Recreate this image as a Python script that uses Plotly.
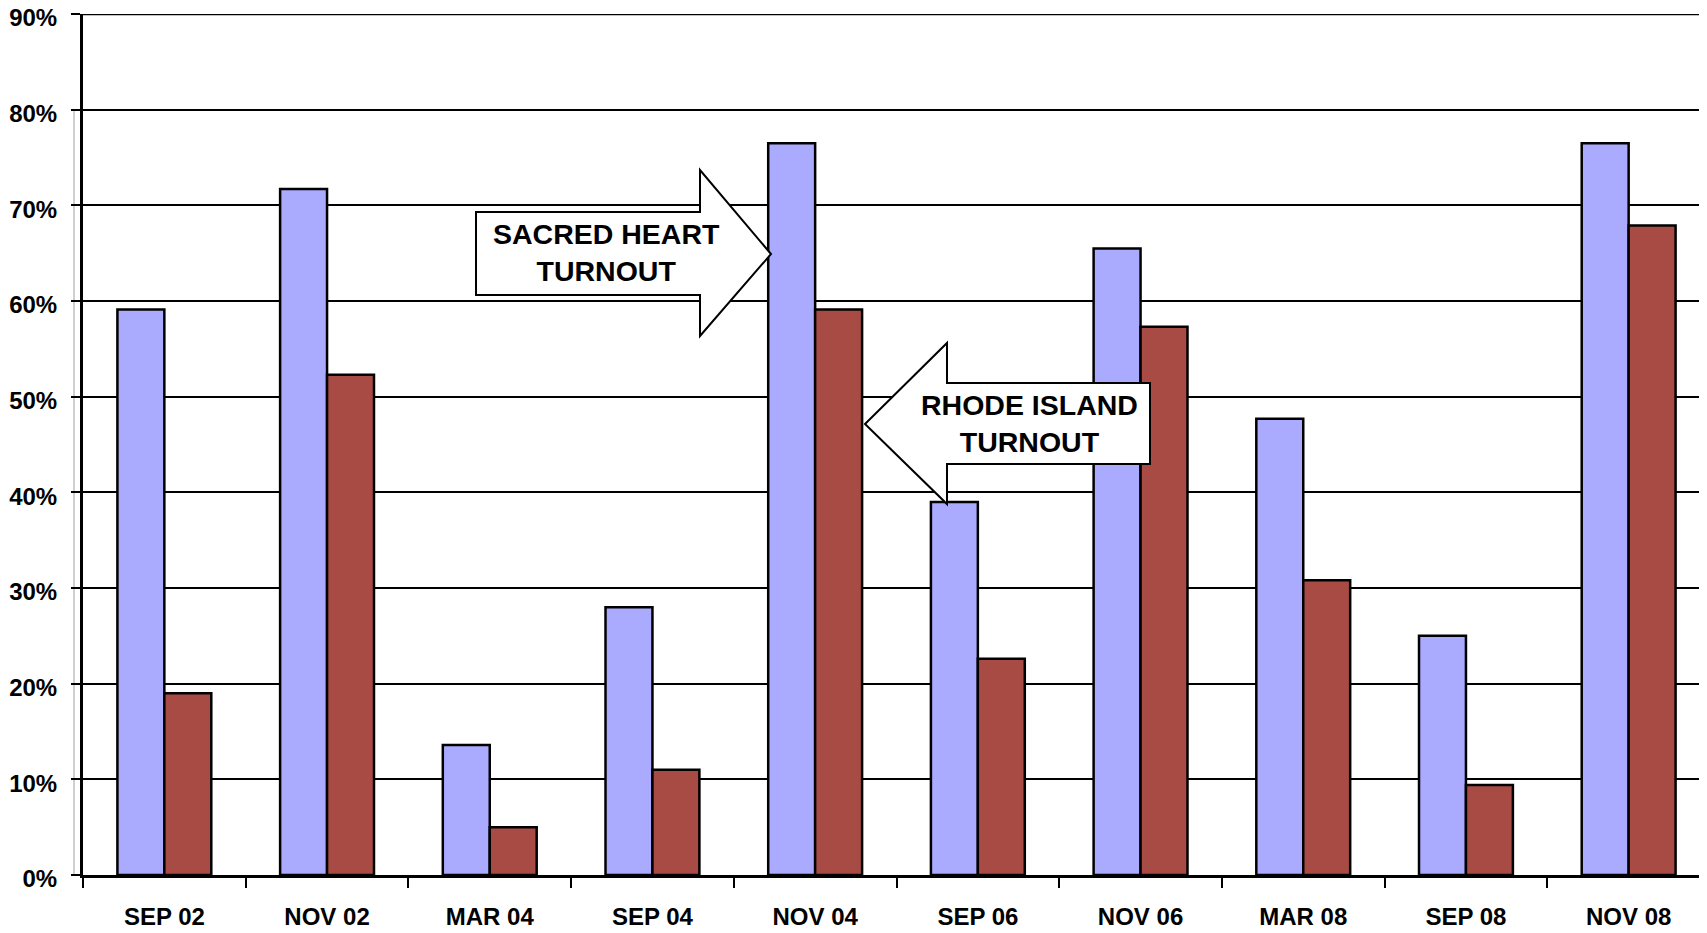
import plotly.graph_objects as go

categories = ["SEP 02", "NOV 02", "MAR 04", "SEP 04", "NOV 04",
              "SEP 06", "NOV 06", "MAR 08", "SEP 08", "NOV 08"]
sacred_heart = [59.1, 71.7, 13.6, 28.0, 76.5, 39.0, 65.5, 47.7, 25.0, 76.5]
rhode_island = [19.0, 52.3, 5.0, 11.0, 59.1, 22.6, 57.3, 30.8, 9.4, 67.9]
y_ticks = list(range(0, 91, 10))
y_tick_labels = [f"{v}%" for v in y_ticks]

# page has an 8px body margin; compensate so the plot lands where the reference has it
OFF = 8
PAGE_W, PAGE_H = 1707, 933
W, H = PAGE_W - OFF, PAGE_H - OFF
PL, PT, PB = 83, 14, 875          # plot edges in page pixels
L, T = PL - OFF, PT - OFF
B = H - (PB - OFF)
R = 0
PW, PH = W - L - R, H - T - B

def pp(x, y):
    # page pixel -> paper fraction
    return (x - OFF - L) / PW, 1 - (y - OFF - T) / PH

def path(points):
    s = ""
    for i, (x, y) in enumerate(points):
        px, py = pp(x, y)
        s += ("M" if i == 0 else "L") + f"{px:.5f},{py:.5f} "
    return s + "Z"

font = dict(family="Liberation Sans, Arial, sans-serif", size=24, color="black", weight="bold")

fig = go.Figure()
fig.add_trace(go.Bar(x=categories, y=sacred_heart, name="Sacred Heart",
                     marker=dict(color="#AAAAFF", line=dict(color="black", width=2.5))))
fig.add_trace(go.Bar(x=categories, y=rhode_island, name="Rhode Island",
                     marker=dict(color="#A84B44", line=dict(color="black", width=2.5))))

sh_arrow = [(476, 212), (700, 212), (700, 170), (771, 254), (700, 336), (700, 295), (476, 295)]
ri_arrow = [(1150, 383), (947, 383), (947, 343), (865, 424), (947, 504), (947, 464), (1150, 464)]

shapes = []
gx0, gy0 = pp(74, 109)
gx1, gy1 = pp(74, 875)
shapes.append(dict(type="line", x0=gx0, y0=gy0, x1=gx1, y1=gy1, xref="paper", yref="paper",
                   line=dict(color="#C0C0C0", width=1.5), layer="below"))
# top (90%) gridline at the edge of the plot area
shapes.append(dict(type="line", x0=0, x1=1, y0=y_ticks[-1], y1=y_ticks[-1], xref="paper", yref="y",
                   line=dict(color="black", width=2.5), layer="below"))
for pts in (sh_arrow, ri_arrow):
    shapes.append(dict(type="path", path=path(pts), xref="paper", yref="paper",
                       fillcolor="white", line=dict(color="black", width=2), layer="above"))

ann = []
for txt, (x, y) in (("SACRED HEART<br>TURNOUT", (606, 253)), ("RHODE ISLAND<br>TURNOUT", (1029, 423))):
    px, py = pp(x, y)
    ann.append(dict(text=txt, x=px, y=py, xref="paper", yref="paper", showarrow=False,
                    xanchor="center", yanchor="middle",
                    font=dict(family="Liberation Sans, Arial, sans-serif", size=28.5,
                              color="black", weight="bold")))

fig.update_layout(
    width=W, height=H,
    margin=dict(l=L, r=R, t=T, b=B, pad=0, autoexpand=False),
    paper_bgcolor="white", plot_bgcolor="white",
    barmode="group", bargap=0.423, bargroupgap=0,
    showlegend=False,
    shapes=shapes, annotations=ann,
    font=font,
)
fig.update_xaxes(type="category", range=[-0.5, -0.5 + PW / 162.7],
                 tickson="boundaries", ticks="outside", ticklen=10, tickwidth=2, tickcolor="black",
                 showline=True, linewidth=3, linecolor="black", showgrid=False,
                 tickfont=font, ticklabelstandoff=18)
fig.update_yaxes(range=[0, 90], tickvals=y_ticks, ticktext=y_tick_labels,
                 showgrid=True, gridcolor="black", gridwidth=2, zeroline=False,
                 showline=True, linewidth=3, linecolor="black",
                 ticks="outside", ticklen=9, tickwidth=2, tickcolor="black",
                 tickfont=font, ticklabelstandoff=9, ticklabelshift=4,
                 ticklabeloverflow="allow")

fig.write_html("out.html")
